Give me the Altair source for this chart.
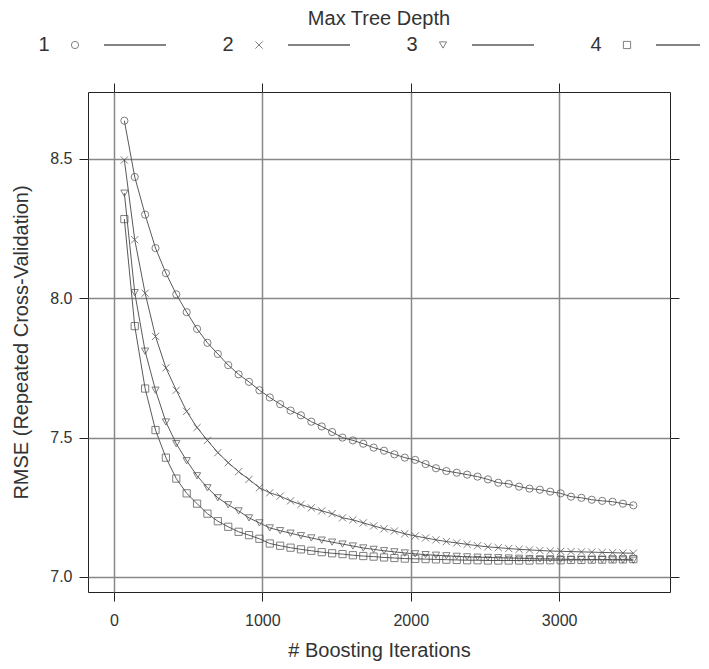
import altair as alt
import pandas as pd

iterations = [70 * i for i in range(1, 51)]

depth1 = [8.637, 8.435, 8.30, 8.18, 8.09, 8.014, 7.95, 7.89, 7.84, 7.80,
          7.76, 7.727, 7.70, 7.67, 7.644, 7.62, 7.597, 7.58, 7.557, 7.54,
          7.52, 7.50, 7.49, 7.478, 7.464, 7.453, 7.44, 7.428, 7.42, 7.405,
          7.39, 7.38, 7.374, 7.367, 7.36, 7.35, 7.338, 7.334, 7.324, 7.317,
          7.313, 7.306, 7.30, 7.288, 7.284, 7.277, 7.273, 7.27, 7.263, 7.257]
depth2 = [8.496, 8.21, 8.018, 7.863, 7.75, 7.67, 7.594, 7.536, 7.49, 7.446,
          7.41, 7.378, 7.35, 7.32, 7.302, 7.29, 7.273, 7.26, 7.248, 7.237,
          7.227, 7.212, 7.205, 7.194, 7.183, 7.173, 7.165, 7.155, 7.147, 7.14,
          7.133, 7.127, 7.122, 7.117, 7.112, 7.108, 7.105, 7.102, 7.099, 7.097,
          7.095, 7.093, 7.092, 7.091, 7.09, 7.089, 7.088, 7.087, 7.086, 7.085]
depth3 = [8.377, 8.02, 7.81, 7.67, 7.556, 7.478, 7.417, 7.363, 7.32, 7.284,
          7.259, 7.237, 7.212, 7.194, 7.176, 7.166, 7.157, 7.148, 7.14, 7.132,
          7.125, 7.118, 7.111, 7.104, 7.099, 7.094, 7.09, 7.086, 7.083, 7.08,
          7.078, 7.076, 7.074, 7.072, 7.071, 7.07, 7.069, 7.068, 7.067, 7.066,
          7.065, 7.065, 7.064, 7.063, 7.063, 7.062, 7.062, 7.061, 7.061, 7.06]
depth4 = [8.284, 7.90, 7.676, 7.527, 7.428, 7.353, 7.30, 7.263, 7.227, 7.20,
          7.18, 7.162, 7.15, 7.137, 7.12, 7.112, 7.105, 7.099, 7.094, 7.089,
          7.085, 7.082, 7.078, 7.075, 7.073, 7.07, 7.068, 7.066, 7.065, 7.064,
          7.063, 7.062, 7.061, 7.06, 7.06, 7.059, 7.059, 7.059, 7.059, 7.059,
          7.06, 7.06, 7.06, 7.061, 7.061, 7.062, 7.062, 7.063, 7.063, 7.064]

depth_labels = ["1", "2", "3", "4"]
legend_title = ["Max Tree Depth"]
shape_range = ["circle", "M-1,-1L1,1M-1,1L1,-1", "triangle-down", "square"]
x_ticks = [0, 1000, 2000, 3000]
y_ticks = [7.0, 7.5, 8.0, 8.5]
x_domain = [-175, 3747]
y_domain = [6.946, 8.740]

rows = []
for lab, series in zip(depth_labels, [depth1, depth2, depth3, depth4]):
    for it, v in zip(iterations, series):
        rows.append({"depth": lab, "iter": it, "rmse": v})
df = pd.DataFrame(rows)
leg = pd.DataFrame({"depth": depth_labels, "pos": [1, 2, 3, 4]})
title_df = pd.DataFrame({"t": legend_title})

FONT = "Liberation Sans"
W, H = 582, 500
GRAY = "#5a5a5a"
MK = "#4a4a4a"
TXT = "#333333"

xs = alt.Scale(domain=x_domain, nice=False, zero=False)
ys = alt.Scale(domain=y_domain, nice=False, zero=False)
shape_scale = alt.Scale(domain=depth_labels, range=shape_range)

lines = alt.Chart(df).mark_line(color=GRAY, strokeWidth=1).encode(
    x=alt.X("iter:Q", scale=xs, title="# Boosting Iterations",
            axis=alt.Axis(values=x_ticks, format="d", orient="bottom", grid=True, domain=False,
                          tickSize=9, labelPadding=11, titlePadding=12)),
    y=alt.Y("rmse:Q", scale=ys, title="RMSE (Repeated Cross-Validation)",
            axis=alt.Axis(values=y_ticks, format=".1f", orient="left", grid=True,
                          domain=False, tickSize=9, labelPadding=7, titlePadding=18)),
    detail="depth:N",
)

points = alt.Chart(df).mark_point(filled=False, size=52, strokeWidth=1, color=MK).encode(
    x=alt.X("iter:Q", scale=xs, title=None,
            axis=alt.Axis(values=x_ticks, orient="top", grid=False, domain=False,
                          labels=False, tickSize=9)),
    y=alt.Y("rmse:Q", scale=ys, title=None,
            axis=alt.Axis(values=y_ticks, orient="right", grid=False, domain=False,
                          labels=False, tickSize=9)),
    shape=alt.Shape("depth:N", scale=shape_scale, legend=None),
)

lx = alt.Scale(domain=[1, 4], range=[-44, 508], nice=False, zero=False)
leg_text = alt.Chart(leg).mark_text(font=FONT, fontSize=20, fontWeight="normal", color=TXT,
                                     baseline="middle", align="center").encode(
    x=alt.X("pos:Q", scale=lx, axis=None),
    y=alt.value(-47),
    text="depth:N",
)
leg_pts = alt.Chart(leg).mark_point(filled=False, size=52, strokeWidth=1, color=MK,
                                    xOffset=31).encode(
    x=alt.X("pos:Q", scale=lx, axis=None),
    y=alt.value(-47),
    shape=alt.Shape("depth:N", scale=shape_scale, legend=None),
)
leg_lines = alt.Chart(leg).mark_rule(color=GRAY, strokeWidth=1.5, xOffset=60, x2Offset=122).encode(
    x=alt.X("pos:Q", scale=lx, axis=None),
    x2="pos:Q",
    y=alt.value(-47),
)
leg_title = alt.Chart(title_df).mark_text(font=FONT, fontSize=20,
                                           fontWeight="normal", color=TXT,
                                           baseline="alphabetic", align="center").encode(
    x=alt.value(W / 2),
    y=alt.value(-67),
    text="t:N",
)

chart = alt.layer(lines, points, leg_lines, leg_pts, leg_text, leg_title).resolve_scale(
    x="independent", y="independent", shape="independent"
).resolve_axis(x="independent", y="independent").properties(
    width=W, height=H,
    background="white",
    autosize=alt.AutoSizeParams(type="none"),
    padding={"left": 80, "top": 84, "right": 30, "bottom": 76},
).configure_view(
    stroke="#222222", strokeWidth=1
).configure_axis(
    labelFont=FONT, titleFont=FONT, labelFontSize=16, titleFontSize=20,
    labelColor=TXT, titleColor=TXT, titleFontWeight="normal",
    tickColor="#222222", tickWidth=1, gridColor="#888888", gridWidth=1.5,
)

chart.save("out.html", embed_options={"renderer": "svg", "actions": False})
